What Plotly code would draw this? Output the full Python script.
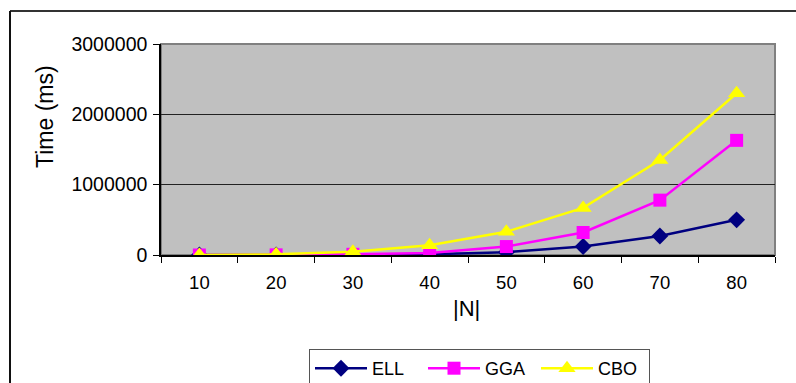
import plotly.graph_objects as go

categories = ["10", "20", "30", "40", "50", "60", "70", "80"]
ell = [0, 500, 2000, 10000, 40000, 120000, 270000, 500000]
gga = [0, 2000, 10000, 30000, 120000, 320000, 780000, 1630000]
cbo = [1000, 10000, 47000, 140000, 330000, 670000, 1350000, 2300000]
y_ticks = [0, 1000000, 2000000, 3000000]

W, H = 796, 383
L, R, T, B = 161, 21, 44, 128
pw, ph = W - L - R, H - T - B

def px(x):
    return (x - L) / pw

def py(y):
    return (H - B - y) / ph

font = "Liberation Sans, Arial, sans-serif"

fig = go.Figure()
fig.add_trace(go.Scatter(x=categories, y=ell, name="ELL", mode="lines+markers",
                         line=dict(color="#000080", width=2.5),
                         marker=dict(symbol="diamond", size=13, color="#000080")))
fig.add_trace(go.Scatter(x=categories, y=gga, name="GGA", mode="lines+markers",
                         line=dict(color="#FF00FF", width=2.5),
                         marker=dict(symbol="square", size=13, color="#FF00FF")))
fig.add_trace(go.Scatter(x=categories, y=cbo, name="CBO", mode="lines+markers",
                         line=dict(color="#FFFF00", width=2.5),
                         marker=dict(symbol="triangle-up", size=15, color="#FFFF00")))

fig.update_layout(
    width=W, height=H,
    margin=dict(l=L, r=R, t=T, b=B, pad=0, autoexpand=False),
    paper_bgcolor="white",
    plot_bgcolor="#C0C0C0",
    font=dict(family=font, color="black", size=18),
    showlegend=True,
    legend=dict(orientation="h", x=px(309), y=py(349), xanchor="left", yanchor="top",
                bordercolor="#555555", borderwidth=1, bgcolor="white",
                font=dict(size=18), entrywidth=46, itemwidth=52,
                tracegroupgap=0),
    xaxis=dict(type="category", range=[-0.5, 7.5], showgrid=False,
               showline=True, linecolor="black", linewidth=1.5,
               ticks="outside", tickson="boundaries", ticklen=6, tickcolor="black",
               tickfont=dict(size=18.5), zeroline=False, automargin=False,
               ticklabelstandoff=10),
    yaxis=dict(range=[0, 3000000], tickvals=y_ticks,
               ticktext=[str(v) for v in y_ticks],
               showgrid=True, gridcolor="#222222", gridwidth=1,
               showline=True, linecolor="black", linewidth=1.5,
               ticks="outside", ticklen=6, tickcolor="black",
               tickfont=dict(size=19.5), zeroline=False, automargin=False,
               ticklabelstandoff=2),
    annotations=[
        dict(text="Time (ms)", x=px(45), y=py(117), xref="paper", yref="paper",
             showarrow=False, textangle=-90, font=dict(size=23),
             xanchor="center", yanchor="middle"),
        dict(text="|N|", x=px(466), y=py(308), xref="paper", yref="paper",
             showarrow=False, font=dict(size=22), xanchor="center", yanchor="middle"),
    ],
    shapes=[
        dict(type="rect", xref="paper", yref="paper", x0=0, x1=1, y0=0, y1=1,
             line=dict(color="#808080", width=2), layer="below"),
        dict(type="line", xref="paper", yref="paper", x0=px(10), x1=px(800),
             y0=py(11), y1=py(11), line=dict(color="#333333", width=2)),
        dict(type="line", xref="paper", yref="paper", x0=px(10), x1=px(10),
             y0=py(11), y1=py(390), line=dict(color="#111111", width=2)),
    ],
)

fig.write_html("out.html")
